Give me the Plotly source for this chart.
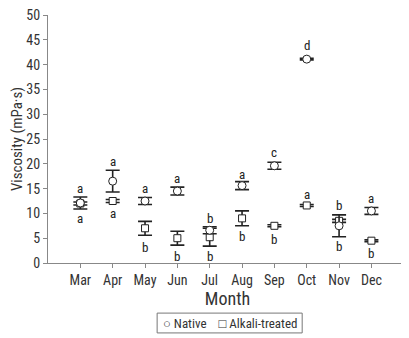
import plotly.graph_objects as go

# 数据
months = ['Mar', 'Apr', 'May', 'Jun', 'Jul', 'Aug', 'Sep', 'Oct', 'Nov', 'Dec']

native = [12.1, 16.5, 12.5, 14.5, 6.6, 15.6, 19.6, 41.1, 7.5, 10.5]
native_err = [1.2, 2.2, 0.7, 0.8, 0.7, 0.8, 0.7, 0.15, 2.2, 0.7]
native_letters = ['a', 'a', 'a', 'a', 'b', 'a', 'c', 'd', 'b', 'a']
native_letter_y = [15.1, 20.4, 15.1, 17.1, 9.0, 17.9, 22.2, 43.8, 11.6, 13.0]

alkali = [12.0, 12.5, 7.0, 5.0, 5.2, 9.0, 7.5, 11.6, 8.5, 4.5]
alkali_err = [0.3, 0.3, 1.4, 1.4, 1.8, 1.5, 0.2, 0.2, 0.3, 0.2]
alkali_letters = ['a', 'a', 'b', 'b', 'b', 'b', 'b', 'a', 'b', 'b']
alkali_letter_y = [9.0, 10.0, 3.2, 1.4, 1.4, 5.4, 4.8, 13.8, 3.4, 2.0]

y_ticks = [0, 5, 10, 15, 20, 25, 30, 35, 40, 45, 50]

FONT = 'Liberation Sans Narrow, Roboto Condensed, Arial Narrow, sans-serif'
INK = '#222222'

fig = go.Figure()

err_style = dict(type='data', thickness=1.6, width=7, color=INK)

fig.add_trace(go.Scatter(
    x=months, y=alkali, mode='markers', name='Alkali-treated',
    error_y=dict(array=alkali_err, **err_style),
    marker=dict(symbol='square', size=7, color='white',
                line=dict(color=INK, width=1)),
))
fig.add_trace(go.Scatter(
    x=months, y=native, mode='markers', name='Native',
    error_y=dict(array=native_err, **err_style),
    marker=dict(symbol='circle', size=8, color='white',
                line=dict(color=INK, width=1)),
))

for m, t, yy in zip(months, native_letters, native_letter_y):
    fig.add_annotation(x=m, y=yy, text=t, showarrow=False,
                       font=dict(family=FONT, size=13, color=INK))
for m, t, yy in zip(months, alkali_letters, alkali_letter_y):
    fig.add_annotation(x=m, y=yy, text=t, showarrow=False,
                       font=dict(family=FONT, size=13, color=INK))

# 图例 (手动: 边框 + 文本)
fig.add_shape(type='rect', xref='paper', yref='paper',
              x0=0.304, x1=0.708, y0=-0.282, y1=-0.202,
              line=dict(color='#777777', width=1), fillcolor='white')
fig.add_annotation(
    xref='paper', yref='paper', x=0.506, y=-0.242, xanchor='center', yanchor='middle',
    text='○ Native    □ Alkali-treated', showarrow=False,
    font=dict(family=FONT, size=13, color='#333333'),
)

# 页面 body 默认有 8px 边距, 这里缩小画布来补偿
fig.update_layout(
    width=401, height=330,
    margin=dict(l=40, r=2, t=7, b=75, autoexpand=False),
    plot_bgcolor='white', paper_bgcolor='white',
    font=dict(family=FONT, size=13, color='#333333'),
    showlegend=False,
    xaxis=dict(
        range=[-1, 10.1], showline=True, linecolor='#888888', linewidth=1,
        ticks='outside', ticklen=4, tickcolor='#888888', showgrid=False,
        zeroline=False, tickfont=dict(size=14),
        title=dict(text='Month', font=dict(size=18, color='#333333'), standoff=3),
    ),
    yaxis=dict(
        range=[0, 50], tickvals=y_ticks, showline=True, linecolor='#888888',
        linewidth=1, ticks='outside', ticklen=4, tickcolor='#888888',
        showgrid=False, zeroline=False, tickfont=dict(size=14),
        ticklabeloverflow='allow',
        title=dict(text='Viscosity (mPa·s)', font=dict(size=15, color='#333333'),
                   standoff=9),
    ),
)

fig.write_html('out.html')
